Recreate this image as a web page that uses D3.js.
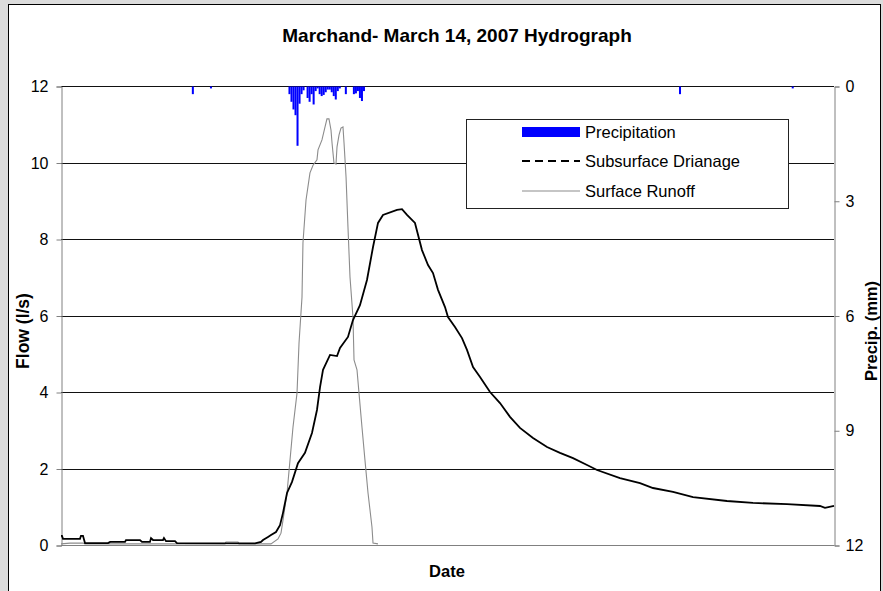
<!DOCTYPE html>
<html>
<head>
<meta charset="utf-8">
<script src="https://cdn.jsdelivr.net/npm/d3@7"></script>
<style>
  html, body { margin: 0; padding: 0; background: #dcdcdc; }
  svg { display: block; font-family: "Liberation Sans", Arial, sans-serif; }
</style>
</head>
<body>
<svg id="chart" width="883" height="591"></svg>
<script>
// time in hours from start of record (x axis has no tick labels, only "Date")
const precipTime = [16.25, 18.5,
  28.25, 28.5, 28.75, 29.0, 29.25, 29.5, 29.75, 30.0,
  30.5, 30.75, 31.0, 31.25, 31.5, 31.75, 32.0, 32.25, 32.5, 32.75,
  33.0, 33.25, 33.5, 33.75, 34.0, 34.25, 34.5, 35.25,
  36.25, 36.5, 36.75, 37.0, 37.25, 37.5, 76.75, 90.75];
const precipMm = [0.2, 0.05,
  0.2, 0.4, 0.6, 0.75, 1.55, 0.45, 0.2, 0.1,
  0.3, 0.4, 0.2, 0.47, 0.12, 0.05, 0.2, 0.25, 0.22, 0.15,
  0.08, 0.08, 0.15, 0.25, 0.34, 0.12, 0.05, 0.2,
  0.2, 0.18, 0.12, 0.3, 0.38, 0.12, 0.2, 0.05];

const drainTime = [0, 0.12, 0.25, 2.36, 2.48, 2.73, 2.98, 5.84, 6.1, 7.95,
  8.07, 9.81, 10.06, 11.05, 11.18, 11.43, 12.67, 12.79, 13.04, 14.16,
  14.4, 24.1, 24.84, 25.09, 25.71, 26.08, 26.7, 27.2, 27.57, 28.07,
  28.69, 29.43, 30.3, 31.17, 31.79, 32.17, 32.54, 33.41, 34.28, 34.65,
  35.64, 36.26, 37.13, 38.0, 38.75, 39.37, 39.99, 41.73, 42.35, 42.97,
  43.96, 44.83, 45.58, 46.2, 46.82, 47.69, 48.06, 48.93, 49.8, 50.42,
  51.17, 52.04, 53.28, 54.52, 55.76, 57.0, 58.62, 60.36, 61.97, 63.59,
  65.33, 66.57, 69.42, 71.91, 73.52, 76.01, 78.49, 82.71, 85.94, 90.16,
  94.26, 94.88, 96];
const drainFlow = [0.24, 0.24, 0.16, 0.16, 0.24, 0.24, 0.05, 0.05, 0.08, 0.08,
  0.13, 0.13, 0.08, 0.08, 0.18, 0.13, 0.13, 0.18, 0.1, 0.1,
  0.05, 0.04, 0.08, 0.13, 0.21, 0.26, 0.34, 0.52, 0.84, 1.36,
  1.65, 2.14, 2.41, 2.93, 3.53, 4.13, 4.58, 4.97, 4.94, 5.15,
  5.44, 5.88, 6.27, 6.93, 7.79, 8.42, 8.63, 8.76, 8.78, 8.63,
  8.42, 7.71, 7.32, 7.11, 6.67, 6.22, 5.96, 5.7, 5.41, 5.1,
  4.65, 4.39, 4.0, 3.71, 3.35, 3.06, 2.8, 2.56, 2.41, 2.27,
  2.09, 1.96, 1.75, 1.62, 1.49, 1.39, 1.25, 1.15, 1.1, 1.07,
  1.02, 0.97, 1.02];

const runoffTime = [0, 1.12, 2.73, 2.98, 20.37, 20.49, 21.98, 22.1, 26.08, 26.95,
  27.32, 27.57, 28.07, 28.44, 28.81, 29.31, 29.56, 29.93, 30.05, 30.43,
  30.92, 31.3, 31.79, 31.92, 32.41, 32.79, 33.03, 33.28, 33.53, 33.66,
  33.9, 34.15, 34.28, 34.53, 34.77, 35.02, 35.15, 35.4, 35.64, 35.89,
  36.26, 36.39, 36.76, 37.01, 37.38, 37.75, 38.13, 38.62, 38.75, 39.37];
const runoffFlow = [0.03, 0.05, 0.05, 0.03, 0.03, 0.08, 0.08, 0.03, 0.03, 0.16,
  0.31, 0.65, 1.36, 2.22, 3.08, 3.97, 5.28, 6.48, 7.9, 9.02,
  9.73, 9.93, 10.07, 10.33, 10.59, 10.93, 11.14, 11.14, 10.85, 10.51,
  9.99, 9.96, 10.41, 10.72, 10.9, 10.93, 10.51, 9.62, 8.31, 7.01,
  5.96, 4.84, 4.58, 3.97, 3.08, 2.22, 1.36, 0.47, 0.05, 0.03];

const flowTicks = [0, 2, 4, 6, 8, 10, 12];
const precipTicks = [0, 3, 6, 9, 12];
const legendLabels = ["Precipitation", "Subsurface Drianage", "Surface Runoff"];

const svg = d3.select("#chart");
const plotL = 61, plotR = 834, plotT = 86, plotB = 545;

// outer chart area
svg.append("rect").attr("x", 8.5).attr("y", 4.5).attr("width", 872).attr("height", 620)
  .attr("fill", "#fff").attr("stroke", "#000");

const x = d3.scaleLinear().domain([0, 96]).range([plotL, plotR]);
const yFlow = d3.scaleLinear().domain([0, 12]).range([plotB, plotT]);
const yPrecip = d3.scaleLinear().domain([0, 12]).range([plotT, plotB]);

// gridlines
svg.append("g").selectAll("line").data(flowTicks.slice(1)).join("line")
  .attr("x1", plotL).attr("x2", plotR)
  .attr("y1", d => Math.round(yFlow(d)) + 0.5).attr("y2", d => Math.round(yFlow(d)) + 0.5)
  .attr("stroke", "#111").attr("stroke-width", 1);

// bottom axis line
svg.append("line").attr("x1", plotL).attr("x2", plotR + 0.5)
  .attr("y1", plotB + 0.5).attr("y2", plotB + 0.5).attr("stroke", "#808080");

// left axis
const gl = svg.append("g").attr("transform", `translate(${plotL + 0.5},0.5)`)
  .call(d3.axisLeft(yFlow).tickValues(flowTicks).tickSize(5).tickPadding(8).tickFormat(d3.format("d")));
gl.select(".domain").attr("stroke", "#808080");
gl.selectAll(".tick line").attr("stroke", "#808080");
gl.selectAll(".tick text").attr("fill", "#000").style("font-size", "16px")
  .style("font-family", "'Liberation Sans', Arial, sans-serif");

// right axis (precipitation, inverted)
const gr = svg.append("g").attr("transform", `translate(${plotR + 0.5},0.5)`)
  .call(d3.axisRight(yPrecip).tickValues(precipTicks).tickSize(5).tickPadding(6).tickFormat(d3.format("d")));
gr.select(".domain").attr("stroke", "#808080");
gr.selectAll(".tick line").attr("stroke", "#808080");
gr.selectAll(".tick text").attr("fill", "#000").style("font-size", "16px")
  .style("font-family", "'Liberation Sans', Arial, sans-serif");

// precipitation bars
svg.append("g").selectAll("rect").data(precipTime).join("rect")
  .attr("x", d => x(d))
  .attr("width", d => x(d + 0.25) - x(d))
  .attr("y", yPrecip(0) + 0.5)
  .attr("height", (d, i) => yPrecip(precipMm[i]) - yPrecip(0))
  .attr("fill", "#0000ff");

// surface runoff
const runoff = runoffTime.map((t, i) => [t, runoffFlow[i]]);
svg.append("path").datum(runoff)
  .attr("d", d3.line().x(d => x(d[0])).y(d => yFlow(d[1])))
  .attr("fill", "none").attr("stroke", "#8c8c8c").attr("stroke-width", 1.1);

// subsurface drainage
const drain = drainTime.map((t, i) => [t, drainFlow[i]]);
svg.append("path").datum(drain)
  .attr("d", d3.line().x(d => x(d[0])).y(d => yFlow(d[1])))
  .attr("fill", "none").attr("stroke", "#000").attr("stroke-width", 1.8);

// legend
const lg = svg.append("g");
lg.append("rect").attr("x", 466.5).attr("y", 119.5).attr("width", 322).attr("height", 89)
  .attr("fill", "#fff").attr("stroke", "#222");
const rowY = [132, 161, 191];
lg.append("rect").attr("x", 522).attr("y", rowY[0] - 5).attr("width", 58).attr("height", 10).attr("fill", "#0000ff");
lg.append("line").attr("x1", 522).attr("x2", 580).attr("y1", rowY[1]).attr("y2", rowY[1])
  .attr("stroke", "#000").attr("stroke-width", 2).attr("stroke-dasharray", "8,5");
lg.append("line").attr("x1", 522).attr("x2", 580).attr("y1", rowY[2]).attr("y2", rowY[2])
  .attr("stroke", "#8c8c8c").attr("stroke-width", 1.1);
lg.selectAll("text").data(legendLabels).join("text")
  .attr("x", 585).attr("y", (d, i) => rowY[i] + 6)
  .style("font-size", "16.5px").attr("fill", "#000").text(d => d);

// titles
svg.append("text").attr("x", 457).attr("y", 42).attr("text-anchor", "middle")
  .style("font-size", "19px").style("font-weight", "bold").text("Marchand- March 14, 2007 Hydrograph");
svg.append("text").attr("x", 447).attr("y", 577).attr("text-anchor", "middle")
  .style("font-size", "16.5px").style("font-weight", "bold").text("Date");
svg.append("text").attr("transform", "translate(29,331) rotate(-90)").attr("text-anchor", "middle")
  .style("font-size", "17.5px").style("font-weight", "bold").text("Flow (l/s)");
svg.append("text").attr("transform", "translate(877,331) rotate(-90)").attr("text-anchor", "middle")
  .style("font-size", "16.5px").style("font-weight", "bold").text("Precip. (mm)");
</script>
</body>
</html>
